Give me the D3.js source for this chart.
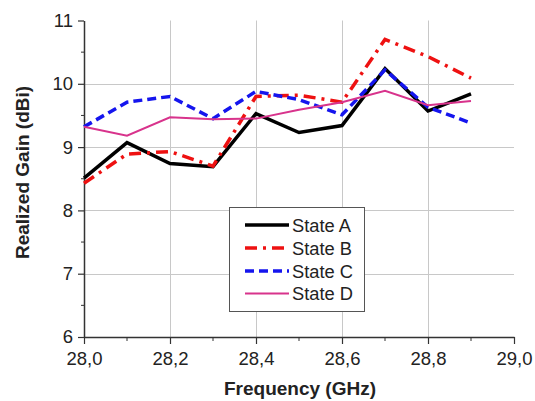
<!DOCTYPE html>
<html>
<head>
<meta charset="utf-8">
<script src="https://cdn.jsdelivr.net/npm/d3@7/dist/d3.min.js"></script>
<style>
  html, body { margin: 0; padding: 0; background: #fff; }
  svg { display: block; font-family: "Liberation Sans", Arial, sans-serif; }
</style>
</head>
<body>
<svg id="chart" width="535" height="401"></svg>
<script>
// ---- data ----
const freqs = [28.0, 28.1, 28.2, 28.3, 28.4, 28.5, 28.6, 28.7, 28.8, 28.9];
const stateA = [8.51, 9.07, 8.74, 8.69, 9.53, 9.23, 9.34, 10.24, 9.57, 9.84];
const stateB = [8.43, 8.89, 8.93, 8.70, 9.80, 9.82, 9.71, 10.70, 10.43, 10.09];
const stateC = [9.32, 9.71, 9.80, 9.45, 9.88, 9.75, 9.51, 10.22, 9.63, 9.38];
const stateD = [9.32, 9.18, 9.47, 9.44, 9.45, 9.59, 9.71, 9.89, 9.66, 9.73];
const seriesNames = ["State A", "State B", "State C", "State D"];
const xTicks = [28.0, 28.2, 28.4, 28.6, 28.8, 29.0];
const xTickLabels = ["28,0", "28,2", "28,4", "28,6", "28,8", "29,0"];
const xMinorTicks = [28.1, 28.3, 28.5, 28.7, 28.9];
const yTicks = [6, 7, 8, 9, 10, 11];
const yMinorTicks = [6.5, 7.5, 8.5, 9.5, 10.5];
const xTitle = "Frequency (GHz)";
const yTitle = "Realized Gain (dBi)";

// ---- styles ----
const styles = [
  { color: "#000000", width: 3.5, dash: null },
  { color: "#ee1111", width: 3.5, dash: "12,6,3,6" },
  { color: "#1515ee", width: 3.5, dash: "9,5" },
  { color: "#d8338c", width: 2, dash: null }
];

const svg = d3.select("#chart");
const L = 84, R = 514, T = 20.5, B = 337;
const x = d3.scaleLinear().domain([28.0, 29.0]).range([L, R]);
const y = d3.scaleLinear().domain([6, 11]).range([B, T]);

// grid
const grid = svg.append("g").attr("stroke", "#c8c8c8").attr("stroke-width", 1);
grid.selectAll("line.v").data(xTicks.slice(1, -1)).join("line")
  .attr("x1", d => Math.round(x(d)) + 0.5).attr("x2", d => Math.round(x(d)) + 0.5)
  .attr("y1", y(6)).attr("y2", y(11));
grid.selectAll("line.h").data(yTicks.slice(1, -1)).join("line")
  .attr("x1", x(28)).attr("x2", x(29))
  .attr("y1", d => Math.round(y(d)) + 0.5).attr("y2", d => Math.round(y(d)) + 0.5);

// axes
const axisColor = "#333";
const xAxis = d3.axisBottom(x).tickValues(xTicks).tickFormat((d, i) => xTickLabels[i])
  .tickSizeInner(7).tickSizeOuter(0).tickPadding(8);
const gx = svg.append("g").attr("transform", `translate(0,${B})`).call(xAxis);
gx.append("g").selectAll("line").data(xMinorTicks).join("line")
  .attr("x1", d => x(d)).attr("x2", d => x(d)).attr("y1", 0).attr("y2", 4)
  .attr("stroke", axisColor);

const yAxis = d3.axisLeft(y).tickValues(yTicks).tickFormat(d3.format("d"))
  .tickSizeInner(6).tickSizeOuter(0).tickPadding(5);
const gy = svg.append("g").attr("transform", `translate(${L},0)`).call(yAxis);
gy.append("g").selectAll("line").data(yMinorTicks).join("line")
  .attr("x1", 0).attr("x2", -3).attr("y1", d => y(d)).attr("y2", d => y(d))
  .attr("stroke", axisColor);

[gx, gy].forEach(g => {
  g.select(".domain").attr("stroke", axisColor).attr("stroke-width", 1.5);
  g.selectAll(".tick line").attr("stroke", axisColor).attr("stroke-width", 1.2);
  g.selectAll(".tick text").attr("fill", "#222").attr("font-size", 18.5)
    .attr("font-family", "'Liberation Sans', Arial, sans-serif");
});

// titles
svg.append("text").attr("x", 300).attr("y", 395).attr("text-anchor", "middle")
  .attr("font-weight", "bold").attr("font-size", 19).attr("fill", "#222").text(xTitle);
svg.append("text").attr("transform", "translate(28.5,172.5) rotate(-90)")
  .attr("text-anchor", "middle").attr("font-weight", "bold").attr("font-size", 19)
  .attr("fill", "#222").text(yTitle);

// lines
const allSeries = [stateA, stateB, stateC, stateD];
const line = d3.line().x((d, i) => x(freqs[i])).y(d => y(d));
allSeries.forEach((s, k) => {
  svg.append("path").datum(s).attr("d", line).attr("fill", "none")
    .attr("stroke", styles[k].color).attr("stroke-width", styles[k].width)
    .attr("stroke-dasharray", styles[k].dash)
    .attr("stroke-linejoin", "miter").attr("stroke-linecap", "butt");
});

// legend
const lg = svg.append("g");
lg.append("rect").attr("x", 229.5).attr("y", 207.5).attr("width", 135).attr("height", 104)
  .attr("fill", "#fff").attr("stroke", "#555").attr("stroke-width", 1);
const rowY = [225, 248, 271, 293.5];
seriesNames.forEach((n, k) => {
  lg.append("line").attr("x1", 245).attr("x2", 289).attr("y1", rowY[k]).attr("y2", rowY[k])
    .attr("stroke", styles[k].color).attr("stroke-width", styles[k].width)
    .attr("stroke-dasharray", styles[k].dash);
  lg.append("text").attr("x", 292).attr("y", rowY[k]).attr("dy", "0.36em")
    .attr("font-size", 18.3).attr("fill", "#222").text(n);
});
</script>
</body>
</html>
